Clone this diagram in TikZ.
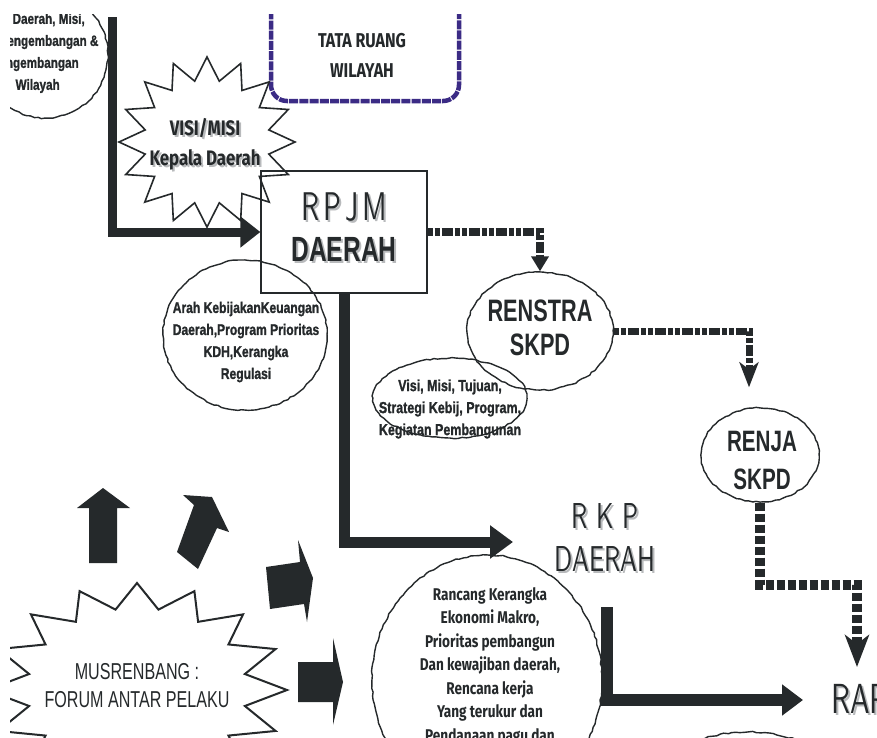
\documentclass[tikz,border=0pt]{standalone}
\usepackage{fontspec}
\usetikzlibrary{arrows.meta,shapes.geometric,decorations.pathmorphing}
\definecolor{ink}{HTML}{25292B}
\definecolor{tatapurple}{HTML}{3B2B85}
\definecolor{shadowgray}{HTML}{B8BABC}
\newfontfamily\nbold[FakeStretch=0.78, BoldFeatures={FakeBold=1.2}]{Liberation Sans}
\newfontfamily\bigbold[FakeStretch=0.7]{Liberation Sans}
\newfontfamily\humfont[FakeStretch=0.8]{Fira Sans}
\newfontfamily\thinfnt[FakeStretch=0.7]{lmsans10-regular.otf}
\newfontfamily\condfnt[FakeStretch=0.7]{Liberation Sans}
\newcommand\shad[1]{\leavevmode\rlap{\kern2pt\raisebox{-2pt}{\textcolor{shadowgray}{#1}}}#1}
\tikzset{
  bubble/.style={ellipse, draw=ink, line width=1.4pt, inner sep=0pt,
    decorate, decoration={random steps, segment length=4pt, amplitude=0.7pt}},
  txt/.style={text=ink, align=center, inner sep=0pt},
  thickarr/.style={draw=ink, line width=9pt, -{Triangle[length=20pt,width=30pt]}},
  dotarr/.style={draw=ink, line width=8pt, dash pattern=on 5pt off 2pt on 5pt off 2pt on 11pt off 2pt},
  starline/.style={draw=ink, line width=1.6pt, line join=miter},
  blockarr/.style={fill=ink}
}
\begin{document}
\begin{tikzpicture}[x=1pt,y=-1pt,line join=miter]
\useasboundingbox (0,0) rectangle (877,737);
\fill[white] (0,0) rectangle (877,737);
\begin{scope}
\clip (10,14) rectangle (877,737);

% purple dashed rounded rectangle
\node[draw=tatapurple, line width=4.5pt, dash pattern=on 9pt off 1.2pt, rounded corners=16pt,
      minimum width=188pt, minimum height=150pt, inner sep=0pt] (tata) at (365,26) {};
\node[txt, font=\humfont\bfseries\fontsize{20}{30}\selectfont] (tatatext) at (362,55) {TATA RUANG\\WILAYAH};

% top-left bubble
\node[bubble, minimum width=126pt, minimum height=126pt] (etop) at (45,55) {};
\node[txt, align=left, font=\nbold\bfseries\fontsize{15}{22}\selectfont] (etoptext) at (45,53)
  {\hspace*{21pt}Daerah, Misi,\\\hspace*{8pt}Pengembangan \&\\Pengembangan\\\hspace*{24pt}Wilayah};

% RPJM box
\node[draw=ink, line width=1.3pt, minimum width=166pt, minimum height=122pt, inner sep=0pt] (rpjm) at (344,232) {};
\node[txt, font=\fontsize{35}{41}\selectfont] (rpjmtext) at (344,228)
  {{\thinfnt\fontsize{40}{41}\selectfont\shad{R\hspace{4pt}P\hspace{4pt}J\hspace{4pt}M}}\\
   {\bigbold\bfseries\fontsize{35}{41}\selectfont\shad{DAERAH}}};

% thick arrow from top into RPJM
\coordinate (topin) at (112,17);
\draw[thickarr] (topin) |- (rpjm.west);

% VISI/MISI starburst
\draw[starline] plot[variable=\k, samples at={0,...,31}]
  ({207+(88-25*mod(\k,2))*cos(-90+11.25*\k)}, {142+(85-23*mod(\k,2))*sin(-90+11.25*\k)}) -- cycle;
\node[txt, font=\humfont\bfseries\fontsize{21}{30}\selectfont] (visimisi) at (205,145)
  {\shad{VISI/MISI}\\\shad{Kepala Daerah}};

% Arah kebijakan bubble
\node[bubble, minimum width=164pt, minimum height=150pt] (arah) at (245,335) {};
\node[txt, font=\nbold\bfseries\fontsize{15.5}{22}\selectfont] (arahtext) at (246,342)
  {Arah KebijakanKeuangan\\Daerah,Program Prioritas\\KDH,Kerangka\\Regulasi};

% RENSTRA
\node[bubble, minimum width=146pt, minimum height=118pt] (renstra) at (540,331) {};
\node[txt, font=\bigbold\bfseries\fontsize{31}{34}\selectfont] (renstratext) at (540,328) {RENSTRA\\SKPD};
\draw[dotarr, -{Triangle[length=15pt,width=17pt]}] (rpjm.east) -| (renstra.north);

% Visi misi tujuan bubble
\node[bubble, minimum width=154pt, minimum height=80pt] (visi) at (450,398) {};
\node[txt, font=\nbold\bfseries\fontsize{16}{22}\selectfont] (visitext) at (450,409)
  {Visi, Misi, Tujuan,\\Strategi Kebij, Program,\\Kegiatan Pembangunan};

% RENJA
\node[bubble, minimum width=118pt, minimum height=94pt] (renja) at (760,455) {};
\node[txt, font=\bigbold\bfseries\fontsize{29.5}{38}\selectfont] (renjatext) at (762,460) {RENJA\\SKPD};
\draw[dotarr, line width=7pt, -{Stealth[length=25pt,width=19pt,inset=7pt]}]
  (renstra.east) -| ([xshift=-11pt,yshift=20pt]renja.north);

% RKP
\coordinate (rkpin) at (513,542);
\draw[draw=ink, line width=11pt, -{Triangle[length=23pt,width=32pt]}] (rpjm.south) |- (rkpin);
\node[txt, font=\thinfnt\fontsize{36}{43}\selectfont] (rkp) at (605,538)
  {\shad{R\hspace{9pt}K\hspace{9pt}P}\\\shad{DAERAH}};

% Rancang bubble
\node[bubble, minimum width=230pt, minimum height=250pt] (rancang) at (487,680) {};
\node[txt, anchor=north, font=\humfont\bfseries\fontsize{17}{23.5}\selectfont] (rancangtext) at (490,587)
  {Rancang Kerangka\\Ekonomi Makro,\\Prioritas pembangun\\Dan kewajiban daerah,\\Rencana kerja\\Yang terukur dan\\Pendanaan pagu dan};

% RA
\node[txt, anchor=west, font=\thinfnt\fontsize{42}{42}\selectfont] (ra) at (831,700) {\shad{RAPBD}};
\coordinate (renjaturn) at (857,585);
\coordinate (raend) at (857,667);
\draw[dotarr, line width=10pt, dash pattern=on 8pt off 3pt, -{Stealth[length=32pt,width=24pt,inset=9pt]}]
  (renja.south) |- (renjaturn) -- (raend);
\coordinate (rkpout) at (607,607);
\draw[draw=ink, line width=12pt, -{Triangle[length=21pt,width=30pt]}] (rkpout) |- ([xshift=-28pt]ra.west);

% small bubble bottom
\node[bubble, minimum width=160pt, minimum height=80pt] (bottombubble) at (748,772) {};

% MUSRENBANG starburst
\draw[starline, line width=2pt, fill=white] plot[variable=\k, samples at={0,...,31}]
  ({137+(150-40*mod(\k,2))*cos(-90+11.25*\k)}, {690+(107-25*mod(\k,2))*sin(-90+11.25*\k)}) -- cycle;
\node[txt, font=\condfnt\fontsize{23}{28}\selectfont] (musren) at (137,686) {MUSRENBANG :\\FORUM ANTAR PELAKU};

% block arrows
\fill[blockarr] (89,563) -- (89,508) -- (77,508) -- (103,488) -- (130,508) -- (117,508) -- (117,563) -- cycle;
\fill[blockarr] (177,552) -- (194,505) -- (183,495) -- (212,497) -- (229,532) -- (217,528) -- (198,569) -- cycle;
\fill[blockarr] (266,567) -- (300,562) -- (298,540) -- (313,578) -- (307,622) -- (304,604) -- (270,609) -- cycle;
\fill[blockarr] (298,662) -- (333,662) -- (333,638) -- (343,682) -- (333,725) -- (333,702) -- (298,702) -- cycle;
\end{scope}
\end{tikzpicture}
\end{document}
